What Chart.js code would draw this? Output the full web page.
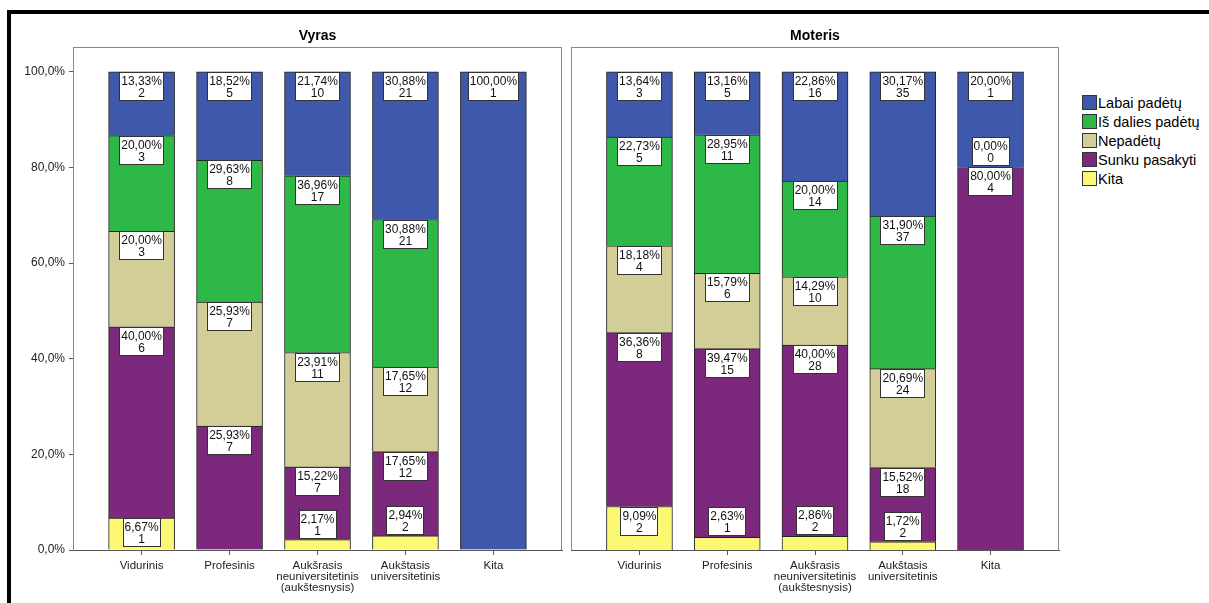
<!DOCTYPE html>
<html lang="lt">
<head>
<meta charset="utf-8">
<title>Vyras / Moteris</title>
<script src="https://cdn.jsdelivr.net/npm/chart.js@4.4.1/dist/chart.umd.min.js"></script>
<style>
  body { margin: 0; background: #fff; }
  #wrap { position: relative; width: 1209px; height: 603px; overflow: hidden; background: #fff; }
  #frame { position: absolute; left: 7px; top: 10px; right: -10px; bottom: -10px; border-top: 4px solid #000; border-left: 4px solid #000; }
  #left { position: absolute; left: 0; top: 0; }
  #right { position: absolute; left: 566px; top: 0; }
  #legend { position: absolute; left: 1082px; top: 93px; font: 14.5px "Liberation Sans", Arial, sans-serif; color: #000; }
  .item { height: 19px; display: flex; align-items: center; white-space: nowrap; }
  .sw { width: 13px; height: 13px; border: 1px solid #333; flex: none; }
  .txt { margin-left: 1px; }
</style>
</head>
<body>
<div id="wrap">
  <div id="frame"></div>
  <canvas id="left" width="566" height="603"></canvas>
  <canvas id="right" width="504" height="603"></canvas>
  <div id="legend"></div>
</div>
<script>
const categoryLabels = [
  ['Vidurinis'],
  ['Profesinis'],
  ['Aukšrasis', 'neuniversitetinis', '(aukštesnysis)'],
  ['Aukštasis', 'universitetinis'],
  ['Kita']
];
const seriesNames = ['Labai padėtų', 'Iš dalies padėtų', 'Nepadėtų', 'Sunku pasakyti', 'Kita'];
const seriesColors = ['#3E58AC', '#2EB848', '#D3CE97', '#7C287D', '#FBF873'];
const yTicks = [0, 20, 40, 60, 80, 100];

// Vyras, % per category
const vyrasLabai = [13.33, 18.52, 21.74, 30.88, 100.00];
const vyrasIsDalies = [20.00, 29.63, 36.96, 30.88, null];
const vyrasNepadetu = [20.00, 25.93, 23.91, 17.65, null];
const vyrasSunku = [40.00, 25.93, 15.22, 17.65, null];
const vyrasKita = [6.67, null, 2.17, 2.94, null];
// Vyras, counts
const vyrasLabaiN = [2, 5, 10, 21, 1];
const vyrasIsDaliesN = [3, 8, 17, 21, null];
const vyrasNepadetuN = [3, 7, 11, 12, null];
const vyrasSunkuN = [6, 7, 7, 12, null];
const vyrasKitaN = [1, null, 1, 2, null];

// Moteris, % per category
const moterisLabai = [13.64, 13.16, 22.86, 30.17, 20.00];
const moterisIsDalies = [22.73, 28.95, 20.00, 31.90, 0.00];
const moterisNepadetu = [18.18, 15.79, 14.29, 20.69, null];
const moterisSunku = [36.36, 39.47, 40.00, 15.52, 80.00];
const moterisKita = [9.09, 2.63, 2.86, 1.72, null];
// Moteris, counts
const moterisLabaiN = [3, 5, 16, 35, 1];
const moterisIsDaliesN = [5, 11, 14, 37, 0];
const moterisNepadetuN = [4, 6, 10, 24, null];
const moterisSunkuN = [8, 15, 28, 18, 4];
const moterisKitaN = [2, 1, 2, 2, null];

const FONT = '"Liberation Sans", Arial, sans-serif';
const Y_MAX = 105.2;   // some room above 100% inside the panel

const fmtPct = v => v.toFixed(2).replace('.', ',') + '%';

// panel border around the plot area
const panelFrame = {
  id: 'panelFrame',
  beforeDraw(chart) {
    const { ctx, chartArea: a } = chart;
    ctx.save();
    ctx.strokeStyle = '#888';
    ctx.lineWidth = 1;
    ctx.strokeRect(Math.round(a.left) + 0.5, Math.round(a.top) + 0.5,
                   Math.round(a.right - a.left) - 1, Math.round(a.bottom - a.top));
    ctx.restore();
  }
};

// white boxes with "percent / count" on each segment
const boxLabels = {
  id: 'boxLabels',
  afterDatasetsDraw(chart) {
    const ctx = chart.ctx;
    ctx.save();
    ctx.font = '12px ' + FONT;
    ctx.textAlign = 'center';
    ctx.textBaseline = 'middle';
    chart.data.datasets.forEach((ds, di) => {
      chart.getDatasetMeta(di).data.forEach((bar, i) => {
        const v = ds.data[i].y;
        if (v === null) return;
        const lines = [fmtPct(v), String(ds.counts[i])];
        const w = Math.round(Math.max(...lines.map(t => ctx.measureText(t).width)) + 4);
        const h = 29;
        let top = Math.round(bar.y);
        if (bar.base - bar.y < h) top = top - h - 1;   // too thin: put it above
        const left = Math.round(bar.x - w / 2);
        ctx.fillStyle = '#fff';
        ctx.fillRect(left, top, w, h);
        ctx.strokeStyle = '#333';
        ctx.lineWidth = 1;
        ctx.strokeRect(left + 0.5, top + 0.5, w - 1, h - 1);
        ctx.fillStyle = '#111';
        ctx.fillText(lines[0], bar.x, top + 10);
        ctx.fillText(lines[1], bar.x, top + 21.5);
      });
    });
    ctx.restore();
  }
};

function makePanel(id, title, pct, counts, showY, pad) {
  // bottom of the stack first: Kita ... Labai padėtų
  const datasets = [4, 3, 2, 1, 0].map(s => ({
    label: seriesNames[s],
    data: pct[s].map((v, i) => ({ x: i, y: v })),
    counts: counts[s],
    backgroundColor: seriesColors[s],
    borderColor: '#222',
    borderWidth: 1,
    barThickness: 66
  }));

  return new Chart(document.getElementById(id), {
    type: 'bar',
    data: { datasets },
    plugins: [panelFrame, boxLabels],
    options: {
      responsive: false,
      animation: false,
      layout: { padding: pad },
      plugins: {
        legend: { display: false },
        tooltip: { enabled: false },
        title: {
          display: true,
          text: title,
          fullSize: false,
          color: '#000',
          font: { family: FONT, size: 14, weight: 'bold' },
          padding: { top: 28, bottom: 2.2 }
        }
      },
      scales: {
        x: {
          type: 'linear',
          min: -0.78,
          max: 4.78,
          stacked: true,
          offset: false,
          afterBuildTicks: s => { s.ticks = categoryLabels.map((_, i) => ({ value: i })); },
          afterFit: s => { s.height = 53; },
          grid: { drawOnChartArea: false, offset: false, tickLength: 5, color: '#555' },
          border: { color: '#555' },
          ticks: {
            autoSkip: false,
            maxRotation: 0,
            padding: 5,
            color: '#222',
            font: { family: FONT, size: 11.5, lineHeight: 0.96 },
            callback: v => categoryLabels[v]
          }
        },
        y: {
          min: 0,
          max: Y_MAX,
          stacked: true,
          display: showY,
          afterBuildTicks: s => { s.ticks = yTicks.map(v => ({ value: v })); },
          afterFit: s => { s.width = showY ? 73 : 0; },
          grid: { drawOnChartArea: false, tickLength: 4, color: '#555' },
          border: { color: '#888' },
          ticks: {
            padding: 4,
            color: '#222',
            font: { family: FONT, size: 12 },
            callback: v => v.toFixed(1).replace('.', ',') + '%'
          }
        }
      }
    }
  });
}

makePanel('left', 'Vyras',
  [vyrasLabai, vyrasIsDalies, vyrasNepadetu, vyrasSunku, vyrasKita],
  [vyrasLabaiN, vyrasIsDaliesN, vyrasNepadetuN, vyrasSunkuN, vyrasKitaN],
  true, { left: 0, right: 4, top: 0, bottom: 0 });

makePanel('right', 'Moteris',
  [moterisLabai, moterisIsDalies, moterisNepadetu, moterisSunku, moterisKita],
  [moterisLabaiN, moterisIsDaliesN, moterisNepadetuN, moterisSunkuN, moterisKitaN],
  false, { left: 5, right: 11, top: 0, bottom: 0 });

// legend
const legend = document.getElementById('legend');
seriesNames.forEach((name, i) => {
  const row = document.createElement('div');
  row.className = 'item';
  const sw = document.createElement('span');
  sw.className = 'sw';
  sw.style.background = seriesColors[i];
  const txt = document.createElement('span');
  txt.className = 'txt';
  txt.textContent = name;
  row.appendChild(sw);
  row.appendChild(txt);
  legend.appendChild(row);
});
</script>
</body>
</html>
